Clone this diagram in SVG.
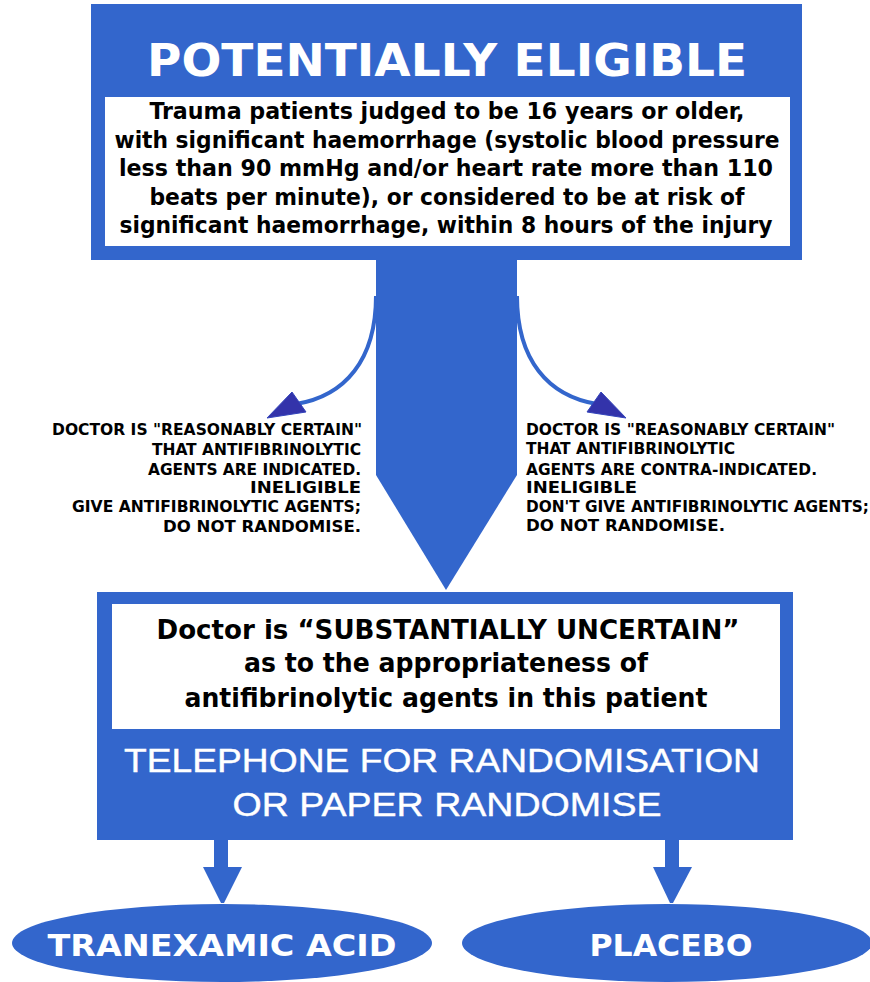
<svg xmlns="http://www.w3.org/2000/svg" width="870" height="982" viewBox="0 0 870 982">
<style>
.blue{fill:#3366CC}
.white{fill:#FFFFFF}
.title{font-family:"DejaVu Sans",Verdana,sans-serif;font-weight:bold;fill:#FFFFFF}
.body{font-family:"DejaVu Sans Condensed","DejaVu Sans",sans-serif;font-weight:bold;font-size:23px;fill:#000;text-anchor:middle}
.mid{font-family:"DejaVu Sans",Verdana,sans-serif;font-weight:bold;font-size:27px;fill:#000;text-anchor:middle}
.tel{font-family:"Liberation Sans",Arial,sans-serif;font-size:33px;fill:#FFFFFF;text-anchor:middle;stroke:#FFFFFF;stroke-width:0.4}
.small{font-family:"DejaVu Sans Condensed","DejaVu Sans",sans-serif;font-weight:bold;font-size:15px;fill:#000}
.oval{font-family:"DejaVu Sans",Verdana,sans-serif;font-weight:bold;font-size:31px;fill:#FFFFFF;text-anchor:middle}
.curve{fill:none;stroke:#3366CC;stroke-width:4}
.head{fill:#3333AA;stroke:#3344BB;stroke-width:1}
</style>
<rect width="870" height="982" fill="#FFFFFF"/>
<g id="connectors">
  <polygon class="blue" points="376,258 517,258 517,475 446,590 376,475"/>
  <path class="curve" d="M376 296 C376 360 345 396 296 404"/>
  <polygon class="head" points="267,418 292,392 306,412"/>
  <path class="curve" d="M517 296 C517 360 548 396 597 404"/>
  <polygon class="head" points="626,418 601,392 587,412"/>
  <rect class="blue" x="214" y="838" width="14" height="30"/>
  <polygon class="blue" points="203,867 242,867 224,903 221,903"/>
  <rect class="blue" x="665" y="838" width="14" height="30"/>
  <polygon class="blue" points="653,867 692,867 673,903 670,903"/>
</g>
<g id="eligible">
  <rect class="blue" x="91" y="4" width="711" height="256"/>
  <rect class="white" x="105" y="97" width="685" height="149"/>
  <text class="title" x="447" y="76" font-size="44" text-anchor="middle" textLength="600" lengthAdjust="spacingAndGlyphs">POTENTIALLY ELIGIBLE</text>
  <text class="body" x="447" y="119" textLength="595" lengthAdjust="spacingAndGlyphs">Trauma patients judged to be 16 years or older,</text>
  <text class="body" x="447" y="148" textLength="665" lengthAdjust="spacingAndGlyphs">with significant haemorrhage (systolic blood pressure</text>
  <text class="body" x="446" y="176" textLength="654" lengthAdjust="spacingAndGlyphs">less than 90 mmHg and/or heart rate more than 110</text>
  <text class="body" x="447" y="205" textLength="595" lengthAdjust="spacingAndGlyphs">beats per minute), or considered to be at risk of</text>
  <text class="body" x="446" y="233" textLength="653" lengthAdjust="spacingAndGlyphs">significant haemorrhage, within 8 hours of the injury</text>
</g>
<g id="ineligible-left">
  <text class="small" x="362" y="435" text-anchor="end" textLength="310" lengthAdjust="spacingAndGlyphs">DOCTOR IS "REASONABLY CERTAIN"</text>
  <text class="small" x="361" y="455" text-anchor="end" textLength="209" lengthAdjust="spacingAndGlyphs">THAT ANTIFIBRINOLYTIC</text>
  <text class="small" x="361" y="475" text-anchor="end" textLength="213" lengthAdjust="spacingAndGlyphs">AGENTS ARE INDICATED.</text>
  <text class="small" x="361" y="493" text-anchor="end" textLength="111" lengthAdjust="spacingAndGlyphs">INELIGIBLE</text>
  <text class="small" x="361" y="512" text-anchor="end" textLength="289" lengthAdjust="spacingAndGlyphs">GIVE ANTIFIBRINOLYTIC AGENTS;</text>
  <text class="small" x="361" y="532" text-anchor="end" textLength="198" lengthAdjust="spacingAndGlyphs">DO NOT RANDOMISE.</text>
</g>
<g id="ineligible-right">
  <text class="small" x="526" y="435" textLength="309" lengthAdjust="spacingAndGlyphs">DOCTOR IS "REASONABLY CERTAIN"</text>
  <text class="small" x="526" y="454" textLength="209" lengthAdjust="spacingAndGlyphs">THAT ANTIFIBRINOLYTIC</text>
  <text class="small" x="526" y="475" textLength="291" lengthAdjust="spacingAndGlyphs">AGENTS ARE CONTRA-INDICATED.</text>
  <text class="small" x="526" y="493" textLength="111" lengthAdjust="spacingAndGlyphs">INELIGIBLE</text>
  <text class="small" x="526" y="512" textLength="343" lengthAdjust="spacingAndGlyphs">DON'T GIVE ANTIFIBRINOLYTIC AGENTS;</text>
  <text class="small" x="526" y="531" textLength="199" lengthAdjust="spacingAndGlyphs">DO NOT RANDOMISE.</text>
</g>
<g id="uncertain">
  <rect class="blue" x="97" y="592" width="696" height="248"/>
  <rect class="white" x="112" y="604" width="668" height="125"/>
  <text class="mid" x="448" y="639" textLength="583" lengthAdjust="spacingAndGlyphs">Doctor is “SUBSTANTIALLY UNCERTAIN”</text>
  <text class="mid" x="446" y="672" textLength="404" lengthAdjust="spacingAndGlyphs">as to the appropriateness of</text>
  <text class="mid" x="446" y="707" textLength="523" lengthAdjust="spacingAndGlyphs">antifibrinolytic agents in this patient</text>
  <text class="tel" x="442" y="772" textLength="636" lengthAdjust="spacingAndGlyphs">TELEPHONE FOR RANDOMISATION</text>
  <text class="tel" x="447" y="816" textLength="429" lengthAdjust="spacingAndGlyphs">OR PAPER RANDOMISE</text>
</g>
<g id="tranexamic">
  <ellipse class="blue" cx="222" cy="943" rx="210" ry="39"/>
  <text class="oval" x="222" y="956" textLength="349" lengthAdjust="spacingAndGlyphs">TRANEXAMIC ACID</text>
</g>
<g id="placebo">
  <ellipse class="blue" cx="667" cy="943" rx="205" ry="39"/>
  <text class="oval" x="671" y="956" textLength="163" lengthAdjust="spacingAndGlyphs">PLACEBO</text>
</g>
</svg>
